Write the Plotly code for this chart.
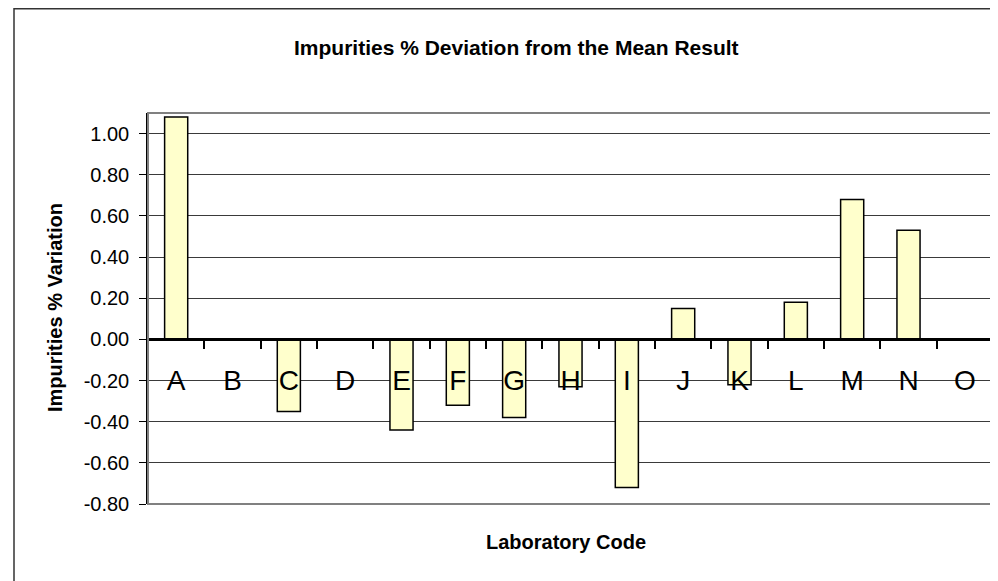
import plotly.graph_objects as go

labs = ["A", "B", "C", "D", "E", "F", "G", "H", "I", "J", "K", "L", "M", "N", "O"]
vals = [1.08, None, -0.35, None, -0.44, -0.32, -0.38, -0.23, -0.72, 0.15, -0.22, 0.18, 0.68, 0.53, None]
ytick_vals = [-0.8, -0.6, -0.4, -0.2, 0.0, 0.2, 0.4, 0.6, 0.8, 1.0]
ytick_text = ["-0.80", "-0.60", "-0.40", "-0.20", "0.00", "0.20", "0.40", "0.60", "0.80", "1.00"]
title_text = "Impurities % Deviation from the Mean Result"
xtitle_text = "Laboratory Code"
ytitle_text = "Impurities % Variation"

# page places the figure at (8, 8) because of the default body margin
OFF = 8
W, H = 998, 581
# plot area in window pixels: x 148..993, y 113..504
L = 148 - OFF
T = 113 - OFF
R = W - (993 - OFF)
B = H - (504 - OFF)
pw, ph = W - L - R, H - T - B
ymin, ymax = -0.8, 1.1
FONT = "Arial, Liberation Sans, sans-serif"


def px(x):
    """window x pixel -> paper coordinate"""
    return (x - OFF - L) / pw


def py(y):
    """window y pixel -> paper coordinate"""
    return (H - B - (y - OFF)) / ph


fig = go.Figure(go.Bar(
    x=labs, y=vals,
    marker=dict(color="#FFFFCC", line=dict(color="#000000", width=1.5)),
    showlegend=False,
))

zero_pos = (0 - ymin) / (ymax - ymin)

fig.update_layout(
    width=W, height=H,
    margin=dict(l=L, r=R, t=T, b=B),
    paper_bgcolor="white", plot_bgcolor="white",
    bargap=0.59,
    font=dict(family=FONT, color="#000000"),
    xaxis=dict(
        type="category",
        anchor="free", position=zero_pos,
        showline=True, linecolor="#000000", linewidth=3,
        ticks="outside", tickson="boundaries", ticklen=8, tickwidth=2, tickcolor="#000000",
        tickfont=dict(size=28, family=FONT, color="#000000"),
        showgrid=False, zeroline=False,
        ticklabelstandoff=15,
    ),
    yaxis=dict(
        range=[ymin, ymax],
        tickvals=ytick_vals, ticktext=ytick_text,
        showline=True, linecolor="#000000", linewidth=1.5,
        ticks="outside", ticklen=7, tickwidth=1, tickcolor="#000000",
        tickfont=dict(size=20, family=FONT, color="#000000"),
        showgrid=True, gridcolor="#3a3a3a", gridwidth=1,
        zeroline=False,
        ticklabelstandoff=6,
    ),
    shapes=[
        dict(type="rect", xref="paper", yref="paper", x0=0, x1=1, y0=0, y1=1,
             line=dict(color="#808080", width=2), layer="above"),
        dict(type="rect", xref="paper", yref="paper", x0=px(14), x1=px(1020), y0=py(620), y1=py(OFF + 0.8),
             line=dict(color="#333333", width=1.5), layer="below"),
    ],
    annotations=[
        dict(text="<b>" + title_text + "</b>", xref="paper", yref="paper",
             x=px(516), y=py(47), xanchor="center", yanchor="middle", showarrow=False,
             font=dict(size=21, family=FONT, color="#000000")),
        dict(text="<b>" + xtitle_text + "</b>", xref="paper", yref="paper",
             x=px(566), y=py(542), xanchor="center", yanchor="middle", showarrow=False,
             font=dict(size=20, family=FONT, color="#000000")),
        dict(text="<b>" + ytitle_text + "</b>", xref="paper", yref="paper",
             x=px(55), y=py(308), xanchor="center", yanchor="middle", showarrow=False,
             textangle=-90,
             font=dict(size=20, family=FONT, color="#000000")),
    ],
)

fig.write_html("out.html")
